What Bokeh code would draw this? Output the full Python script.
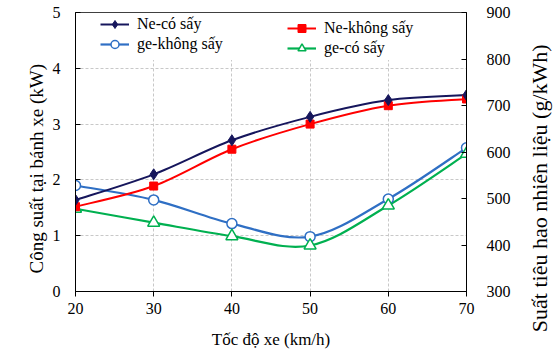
import math
from bokeh.plotting import figure
from bokeh.models import (LinearAxis, Range1d, SingleIntervalTicker, Legend,
                          LegendItem, BoxAnnotation, ColumnDataSource, Label)
from bokeh.embed import file_html
from bokeh.resources import INLINE

# ---- data ----
speed = [20, 30, 40, 50, 60, 70]
ne_co_say = [1.64, 2.10, 2.71, 3.13, 3.43, 3.52]        # kW
ne_khong_say = [1.52, 1.89, 2.55, 3.00, 3.33, 3.45]     # kW
ge_khong_say = [528, 497, 446, 418, 499, 609]           # g/kWh
ge_co_say = [478, 448, 419, 399, 485, 596]              # g/kWh

label_ne_co = "Ne-có sấy"
label_ne_khong = "Ne-không sấy"
label_ge_khong = "ge-không sấy"
label_ge_co = "ge-có sấy"
x_title = "Tốc độ xe (km/h)"
y_left_title = "Công suất tại bánh xe (kW)"
y_right_title = "Suất tiêu hao nhiên liệu (g/kWh)"

FONT = "Liberation Serif"
NAVY = "#16165c"
RED = "#ff0000"
BLUE = "#2f6fc4"
GREEN = "#00b050"


def smooth(xs, ys):
    """Bezier control points for a smoothed line through the data points."""
    n = len(xs)
    d = dict(x0=[], y0=[], x1=[], y1=[], cx0=[], cy0=[], cx1=[], cy1=[])
    for i in range(n - 1):
        xm, ym = (xs[i - 1], ys[i - 1]) if i > 0 else (xs[i], ys[i])
        xp, yp = (xs[i + 2], ys[i + 2]) if i + 2 < n else (xs[i + 1], ys[i + 1])
        d["x0"].append(xs[i]); d["y0"].append(ys[i])
        d["x1"].append(xs[i + 1]); d["y1"].append(ys[i + 1])
        d["cx0"].append(xs[i] + (xs[i + 1] - xm) / 6)
        d["cy0"].append(ys[i] + (ys[i + 1] - ym) / 6)
        d["cx1"].append(xs[i + 1] - (xp - xs[i]) / 6)
        d["cy1"].append(ys[i + 1] - (yp - ys[i]) / 6)
    return ColumnDataSource(d)


p = figure(width=556, height=351, x_range=Range1d(20, 70), y_range=Range1d(0, 5),
           output_backend="svg", toolbar_location=None,
           min_border_left=75, min_border_right=90, min_border_top=12,
           min_border_bottom=59)
p.extra_y_ranges = {"right": Range1d(300, 900)}
p.background_fill_color = "white"
p.border_fill_color = "white"
p.outline_line_color = "black"
p.outline_line_width = 1

# axes
for ax in (p.xaxis[0], p.yaxis[0]):
    ax.axis_line_color = "black"
    ax.major_tick_line_color = "black"
    ax.minor_tick_line_color = None
    ax.major_label_text_font = FONT
    ax.major_label_text_font_size = "16px"
    ax.major_label_text_color = "black"
    ax.axis_label_text_font = FONT
    ax.axis_label_text_font_size = "17px"
    ax.axis_label_text_font_style = "normal"
    ax.axis_label_text_color = "black"

p.xaxis[0].ticker = SingleIntervalTicker(interval=10)
p.xaxis[0].major_tick_in = 0
p.xaxis[0].major_tick_out = 5
p.xaxis[0].major_label_standoff = 6
p.xaxis[0].axis_label = x_title
p.xaxis[0].axis_label_standoff = 13

p.yaxis[0].ticker = SingleIntervalTicker(interval=1)
p.yaxis[0].major_tick_in = 5
p.yaxis[0].major_tick_out = 0
p.yaxis[0].major_label_standoff = 11

ry = LinearAxis(y_range_name="right", ticker=SingleIntervalTicker(interval=100))
ry.axis_line_color = "black"
ry.major_tick_line_color = "black"
ry.minor_tick_line_color = None
ry.major_tick_in = 5
ry.major_tick_out = 0
ry.major_label_standoff = 16
ry.major_label_text_font = FONT
ry.major_label_text_font_size = "16px"
ry.major_label_text_color = "black"
p.add_layout(ry, "right")

# vertical axis titles (placed like the reference, reading bottom-to-top)
p.add_layout(Label(x=15.0, y=2.2, text=y_left_title, angle=math.pi / 2,
                   text_align="center", text_baseline="middle",
                   text_font=FONT, text_font_size="19px", text_color="black"),
             "left")
p.add_layout(Label(x=79.3, y=1.85, text=y_right_title, angle=math.pi / 2,
                   text_align="center", text_baseline="middle",
                   text_font=FONT, text_font_size="22px", text_color="black"),
             "right")

# grid
p.xgrid.grid_line_color = "#c8c8c8"
p.xgrid.grid_line_dash = "3 2"
p.ygrid.grid_line_color = "#c8c8c8"
p.ygrid.grid_line_dash = "3 2"

# white legend background area
p.add_layout(BoxAnnotation(left=20, right=70, bottom=4.15, top=5,
                           fill_color="white", fill_alpha=1.0, line_alpha=0,
                           level="underlay"))

# series
b_ge_k = p.bezier(x0="x0", y0="y0", x1="x1", y1="y1", cx0="cx0", cy0="cy0",
                  cx1="cx1", cy1="cy1", source=smooth(speed, ge_khong_say),
                  line_color=BLUE, line_width=2.2, y_range_name="right")
b_ge_c = p.bezier(x0="x0", y0="y0", x1="x1", y1="y1", cx0="cx0", cy0="cy0",
                  cx1="cx1", cy1="cy1", source=smooth(speed, ge_co_say),
                  line_color=GREEN, line_width=2.2, y_range_name="right")
b_ne_k = p.bezier(x0="x0", y0="y0", x1="x1", y1="y1", cx0="cx0", cy0="cy0",
                  cx1="cx1", cy1="cy1", source=smooth(speed, ne_khong_say),
                  line_color=RED, line_width=2)
b_ne_c = p.bezier(x0="x0", y0="y0", x1="x1", y1="y1", cx0="cx0", cy0="cy0",
                  cx1="cx1", cy1="cy1", source=smooth(speed, ne_co_say),
                  line_color=NAVY, line_width=2)

s_ge_k = p.scatter(speed, ge_khong_say, marker="circle", size=10,
                   fill_color="white", line_color=BLUE, line_width=1.5,
                   y_range_name="right")
s_ge_c = p.scatter(speed, ge_co_say, marker="triangle", size=12,
                   fill_color="white", line_color=GREEN, line_width=1.5,
                   y_range_name="right")
s_ne_k = p.scatter(speed, ne_khong_say, marker="square", size=8,
                   fill_color=RED, line_color=RED)
s_ne_c = p.scatter(speed, ne_co_say, marker="diamond", size=11,
                   fill_color=NAVY, line_color=NAVY)


def make_legend(items, loc):
    lg = Legend(items=items, location=loc, orientation="vertical",
                label_text_font=FONT, label_text_font_size="16px",
                label_text_color="black", glyph_width=29, glyph_height=20,
                label_height=20, label_standoff=8, spacing=0, padding=3,
                margin=0, border_line_alpha=0, background_fill_alpha=0)
    return lg


leg1 = make_legend([LegendItem(label=label_ne_co, renderers=[b_ne_c, s_ne_c]),
                    LegendItem(label=label_ge_khong, renderers=[b_ge_k, s_ge_k])],
                   (22, 234))
leg2 = make_legend([LegendItem(label=label_ne_khong, renderers=[b_ne_k, s_ne_k]),
                    LegendItem(label=label_ge_co, renderers=[b_ge_c, s_ge_c])],
                   (209, 230))
p.add_layout(leg1, "center")
p.add_layout(leg2, "center")

open("out.html", "w").write(file_html(p, INLINE))
